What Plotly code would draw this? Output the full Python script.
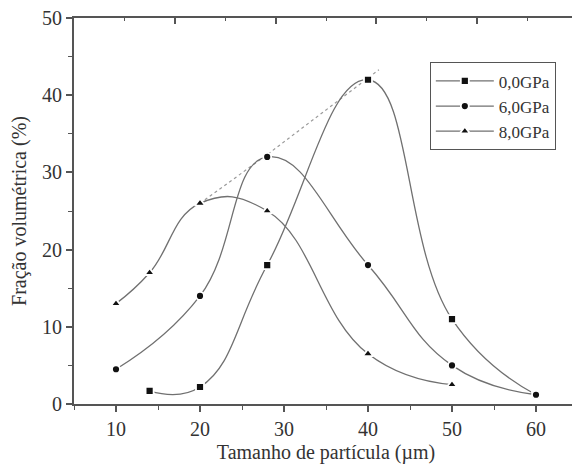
import plotly.graph_objects as go

# Data
x_0gpa = [14, 20, 28, 40, 50, 60]
y_0gpa = [1.7, 2.2, 18, 42, 11, 1.2]
x_6gpa = [10, 20, 28, 40, 50, 60]
y_6gpa = [4.5, 14, 32, 18, 5, 1.2]
x_8gpa = [10, 14, 20, 28, 40, 50]
y_8gpa = [13, 17, 26, 25, 6.5, 2.5]
x_trend = [20, 28, 41.3]
y_trend = [26, 32.3, 43.3]
names = ["0,0GPa", "6,0GPa", "8,0GPa"]
symbols = ["square", "circle", "triangle-up"]

FONT = "Liberation Serif"
AX = "#555555"
LINE = "#707070"

fig = go.Figure()
fig.add_trace(go.Scatter(x=x_trend, y=y_trend, mode="lines", showlegend=False,
                         line=dict(color="#9a9a9a", width=1.2, dash="dot"), hoverinfo="skip"))
for xs, ys, nm, sym in zip([x_0gpa, x_6gpa, x_8gpa], [y_0gpa, y_6gpa, y_8gpa], names, symbols):
    fig.add_trace(go.Scatter(
        x=xs, y=ys, name=nm, mode="lines+markers",
        line=dict(color=LINE, width=1.3, shape="spline", smoothing=1.3),
        marker=dict(symbol=sym, size=8 if sym != "triangle-up" else 9, color="#111111",
                    line=dict(color="white", width=1.8)),
    ))

# page body adds an 8px offset, so the figure is sized to the remaining window
fig.update_layout(
    width=572, height=461,
    margin=dict(l=66, r=2, t=10, b=65, autoexpand=False),
    paper_bgcolor="white", plot_bgcolor="white",
    font=dict(family=FONT, size=20, color="#333333"),
    legend=dict(x=0.706, y=0.885, xanchor="left", yanchor="top",
                bordercolor=AX, borderwidth=1, bgcolor="white",
                font=dict(family=FONT, size=17, color="#333333"),
                tracegroupgap=0, itemwidth=58),
    xaxis=dict(range=[5, 65], tick0=10, dtick=10, ticks="outside", ticklen=6, automargin=False,
               tickwidth=1.5, tickcolor=AX, showline=True, linecolor=AX, linewidth=2,
               showgrid=False, zeroline=False, ticklabeloverflow="allow",
               minor=dict(dtick=5, tick0=5, ticks="outside", ticklen=4, tickcolor=AX, tickwidth=1.2),
               title=dict(text="Tamanho de partícula (µm)", font=dict(family=FONT, size=20), standoff=6),
               tickfont=dict(family=FONT, size=20)),
    yaxis=dict(range=[0, 50], dtick=10, ticks="outside", ticklen=6, automargin=False,
               tickwidth=1.5, tickcolor=AX, showline=True, linecolor=AX, linewidth=2,
               showgrid=False, zeroline=False, ticklabeloverflow="allow",
               minor=dict(dtick=5, ticks="outside", ticklen=4, tickcolor=AX, tickwidth=1.2),
               title=dict(text="Fração volumétrica (%)", font=dict(family=FONT, size=20), standoff=14),
               tickfont=dict(family=FONT, size=20)),
    xaxis2=dict(range=[5, 65], overlaying="x", side="top", tick0=5, dtick=12, automargin=False,
                ticks="inside", ticklen=6, tickwidth=1.5, tickcolor=AX, showticklabels=False,
                showline=True, linecolor=AX, linewidth=2, showgrid=False, zeroline=False,
                minor=dict(dtick=6, tick0=5, ticks="inside", ticklen=3, tickcolor=AX, tickwidth=1.2)),
    yaxis2=dict(range=[0, 50], overlaying="y", side="right", dtick=10, automargin=False,
                ticks="inside", ticklen=6, tickwidth=1.5, tickcolor=AX, showticklabels=False,
                showline=True, linecolor="#cccccc", linewidth=1, showgrid=False, zeroline=False,
                minor=dict(dtick=5, ticks="inside", ticklen=3, tickcolor=AX, tickwidth=1.2)),
)
# invisible trace to activate the secondary axes
fig.add_trace(go.Scatter(x=[None], y=[None], xaxis="x2", yaxis="y2", showlegend=False, hoverinfo="skip"))

fig.write_html("out.html")
